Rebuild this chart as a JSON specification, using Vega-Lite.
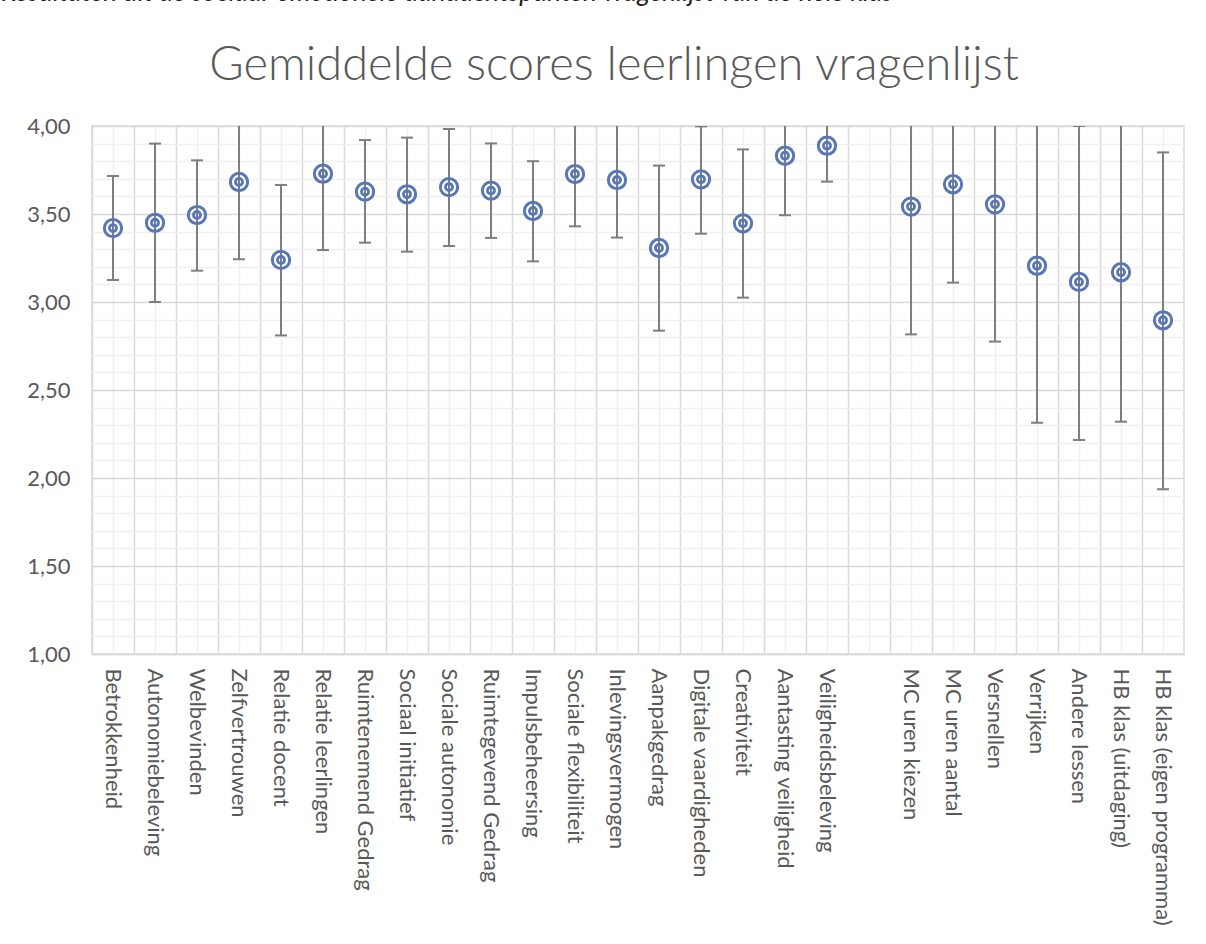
{
  "$schema": "https://vega.github.io/schema/vega-lite/v6.json",
  "padding": {"left": 0, "top": -21, "right": 0, "bottom": 0},
  "background": "#ffffff",
  "title": {
    "text": "Resultaten uit de sociaal-emotionele aandachtspunten vragenlijst van de hele klas",
    "font": "Lato", "fontStyle": "italic", "fontWeight": 400, "fontSize": 26.5, "color": "#222222",
    "anchor": "start", "frame": "bounds", "dx": -25, "offset": 14, "baseline": "alphabetic"
  },
  "config": {
    "view": {"stroke": "#d9d9d9", "strokeWidth": 1.5},
    "axis": {"labelFont": "Lato", "labelColor": "#595959", "labelFontSize": 22}
  },
  "data": {
    "values": [
      {"cat": "Betrokkenheid", "mean": 3.42, "lo": 3.125, "hi": 3.716},
      {"cat": "Autonomiebeleving", "mean": 3.45, "lo": 3.0, "hi": 3.9},
      {"cat": "Welbevinden", "mean": 3.494, "lo": 3.178, "hi": 3.805},
      {"cat": "Zelfvertrouwen", "mean": 3.682, "lo": 3.243, "hi": 4.121},
      {"cat": "Relatie docent", "mean": 3.239, "lo": 2.81, "hi": 3.665},
      {"cat": "Relatie leerlingen", "mean": 3.729, "lo": 3.295, "hi": 4.163},
      {"cat": "Ruimtenemend Gedrag", "mean": 3.627, "lo": 3.337, "hi": 3.92},
      {"cat": "Sociaal initiatief", "mean": 3.612, "lo": 3.286, "hi": 3.934},
      {"cat": "Sociale autonomie", "mean": 3.653, "lo": 3.318, "hi": 3.983},
      {"cat": "Ruimtegevend Gedrag", "mean": 3.633, "lo": 3.364, "hi": 3.901},
      {"cat": "Impulsbeheersing", "mean": 3.517, "lo": 3.231, "hi": 3.8},
      {"cat": "Sociale flexibiliteit", "mean": 3.727, "lo": 3.43, "hi": 4.024},
      {"cat": "Inlevingsvermogen", "mean": 3.693, "lo": 3.366, "hi": 4.02},
      {"cat": "Aanpakgedrag", "mean": 3.307, "lo": 2.837, "hi": 3.775},
      {"cat": "Digitale vaardigheden", "mean": 3.697, "lo": 3.388, "hi": 3.998},
      {"cat": "Creativiteit", "mean": 3.447, "lo": 3.025, "hi": 3.867},
      {"cat": "Aantasting veiligheid", "mean": 3.831, "lo": 3.493, "hi": 4.169},
      {"cat": "Veiligheidsbeleving", "mean": 3.888, "lo": 3.684, "hi": 4.092},
      {"cat": "MC uren kiezen", "mean": 3.542, "lo": 2.816, "hi": 4.268},
      {"cat": "MC uren aantal", "mean": 3.669, "lo": 3.11, "hi": 4.228},
      {"cat": "Versnellen", "mean": 3.555, "lo": 2.775, "hi": 4.335},
      {"cat": "Verrijken", "mean": 3.206, "lo": 2.314, "hi": 4.098},
      {"cat": "Andere lessen", "mean": 3.114, "lo": 2.216, "hi": 4.0},
      {"cat": "HB klas (uitdaging)", "mean": 3.169, "lo": 2.32, "hi": 4.018},
      {"cat": "HB klas (eigen programma)", "mean": 2.896, "lo": 1.936, "hi": 3.85}
    ]
  },
  "vconcat": [
    {
      "width": 1092,
      "height": 528,
      "title": {
        "text": "Gemiddelde scores leerlingen vragenlijst",
        "font": "Lato", "fontWeight": 300, "fontSize": 47, "color": "#595959",
        "anchor": "middle", "frame": "group", "dx": -24, "offset": -12, "baseline": "alphabetic"
      },
      "resolve": {"axis": {"x": "independent", "y": "independent"}},
      "layer": [
        {
          "mark": {"type": "rule", "color": "#7f7f7f", "strokeWidth": 2, "clip": true},
          "encoding": {
            "x": {
              "field": "cat", "type": "nominal", "sort": null,
              "scale": {
                "domain": ["Betrokkenheid", "Autonomiebeleving", "Welbevinden", "Zelfvertrouwen", "Relatie docent", "Relatie leerlingen", "Ruimtenemend Gedrag", "Sociaal initiatief", "Sociale autonomie", "Ruimtegevend Gedrag", "Impulsbeheersing", "Sociale flexibiliteit", "Inlevingsvermogen", "Aanpakgedrag", "Digitale vaardigheden", "Creativiteit", "Aantasting veiligheid", "Veiligheidsbeleving", " ", "MC uren kiezen", "MC uren aantal", "Versnellen", "Verrijken", "Andere lessen", "HB klas (uitdaging)", "HB klas (eigen programma)"],
                "paddingInner": 0, "paddingOuter": 0
              },
              "axis": {
                "orient": "bottom", "title": null, "bandPosition": 0.5,
                "grid": true, "gridColor": "#f0f0f0", "gridWidth": 1.5,
                "ticks": false, "domain": true, "domainColor": "#d9d9d9", "domainWidth": 1.5,
                "labelAngle": 90, "labelAlign": "left", "labelBaseline": "middle", "labelPadding": 14,
                "labelLimit": 400
              }
            },
            "y": {
              "field": "lo", "type": "quantitative",
              "scale": {"domain": [1, 4], "nice": false, "zero": false},
              "axis": {
                "orient": "left", "title": null,
                "values": [1.1, 1.2, 1.3, 1.4, 1.6, 1.7, 1.8, 1.9, 2.1, 2.2, 2.3, 2.4, 2.6, 2.7, 2.8, 2.9, 3.1, 3.2, 3.3, 3.4, 3.6, 3.7, 3.8, 3.9],
                "grid": true, "gridColor": "#f0f0f0", "gridWidth": 1.5,
                "labels": false, "ticks": false, "domain": false
              }
            },
            "y2": {"field": "hi"}
          }
        },
        {
          "mark": {"type": "tick", "color": "#7f7f7f", "thickness": 2, "size": 12, "clip": true, "opacity": 1},
          "encoding": {
            "x": {
              "field": "cat", "type": "nominal", "sort": null,
              "axis": {
                "orient": "bottom", "title": null, "bandPosition": 0,
                "grid": true, "gridColor": "#d9d9d9", "gridWidth": 1.5,
                "ticks": false, "domain": false, "labels": false
              }
            },
            "y": {
              "field": "lo", "type": "quantitative",
              "axis": {
                "orient": "left", "title": null,
                "values": [1, 1.5, 2, 2.5, 3, 3.5, 4],
                "grid": true, "gridColor": "#d9d9d9", "gridWidth": 1.5,
                "ticks": false, "domain": false, "labelPadding": 22,
                "labelExpr": "replace(format(datum.value, '.2f'), '.', ',')"
              }
            }
          }
        },
        {
          "mark": {"type": "tick", "color": "#7f7f7f", "thickness": 2, "size": 12, "clip": true, "opacity": 1},
          "encoding": {
            "x": {"field": "cat", "type": "nominal", "sort": null, "axis": null},
            "y": {"field": "hi", "type": "quantitative", "axis": null}
          }
        },
        {
          "mark": {"type": "point", "shape": "circle", "filled": false, "size": 300, "stroke": "#5877b4", "strokeWidth": 3, "opacity": 1},
          "encoding": {
            "x": {"field": "cat", "type": "nominal", "sort": null, "axis": null},
            "y": {"field": "mean", "type": "quantitative", "axis": null}
          }
        },
        {
          "mark": {"type": "point", "shape": "circle", "filled": false, "size": 50, "stroke": "#5877b4", "strokeWidth": 2.8, "opacity": 1},
          "encoding": {
            "x": {"field": "cat", "type": "nominal", "sort": null, "axis": null},
            "y": {"field": "mean", "type": "quantitative", "axis": null}
          }
        }
      ]
    }
  ]
}
